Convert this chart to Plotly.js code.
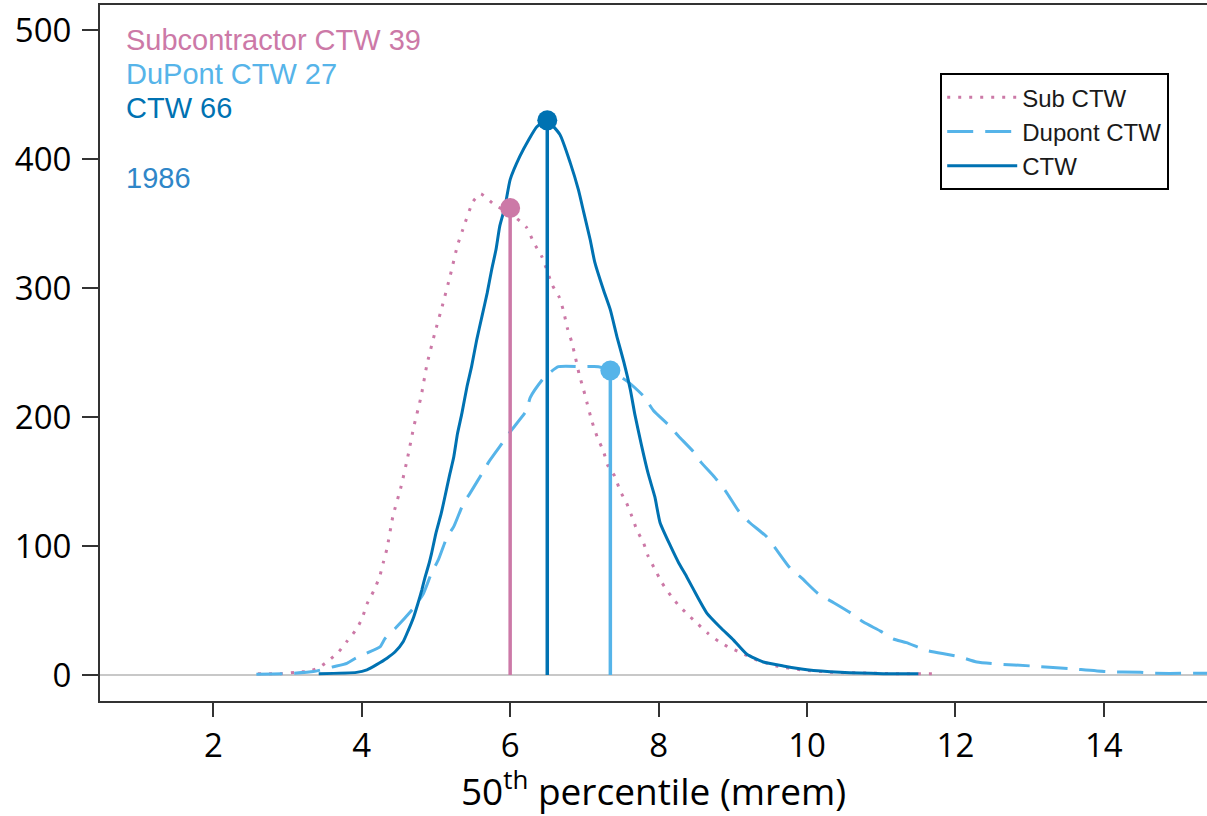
<!DOCTYPE html>
<html>
<head>
<meta charset="utf-8">
<script src="https://cdn.plot.ly/plotly-3.0.1.min.js"></script>
<style>
  html, body { margin: 0; padding: 0; background: #ffffff; }
  #chart { width: 1207px; height: 816px; }
</style>
</head>
<body>
<div id="chart"></div>
<script>
// Sub CTW (subcontractor) curve
const subX = [2.6, 2.9, 3.1, 3.3, 3.43, 3.55, 3.69, 3.8, 3.91, 4.0, 4.07, 4.16, 4.24, 4.29, 4.34, 4.42, 4.53, 4.62, 4.7, 4.8, 4.88, 4.98, 5.09, 5.19, 5.29, 5.36, 5.5, 5.6, 5.8, 6.0, 6.22, 6.32, 6.43, 6.57, 6.66, 6.72, 6.77, 6.83, 6.88, 6.93, 6.99, 7.04, 7.1, 7.17, 7.26, 7.31, 7.41, 7.48, 7.57, 7.64, 7.71, 7.8, 7.86, 7.95, 8.04, 8.17, 8.27, 8.39, 8.52, 8.67, 8.81, 8.93, 9.12, 9.3, 9.59, 9.91, 10.36, 10.81, 11.12, 11.73];
const subY = [1, 1, 2, 3, 6, 11, 18, 26, 34, 43, 55, 65, 76, 87, 98, 123, 146, 169, 192, 216, 241, 264, 287, 309, 333, 345, 367, 373, 364, 358, 347, 335, 324, 302, 293, 282, 269, 258, 246, 233, 221, 210, 197, 185, 173, 163, 154, 143, 133, 123, 112, 102, 92, 82, 72, 61, 54, 47, 40, 32, 26, 22, 17, 12, 7, 4, 2, 1.5, 1, 1];

// DuPont CTW curve
const dupX = [2.58, 2.99, 3.35, 3.62, 3.8, 3.92, 4.07, 4.25, 4.31, 4.45, 4.7, 4.83, 4.94, 5.03, 5.15, 5.24, 5.37, 5.46, 5.64, 5.71, 5.91, 6.02, 6.22, 6.27, 6.45, 6.65, 6.99, 7.19, 7.35, 7.57, 7.8, 7.93, 8.13, 8.27, 8.47, 8.57, 8.76, 8.91, 9.08, 9.23, 9.46, 9.59, 9.77, 9.93, 10.15, 10.36, 10.59, 10.76, 10.99, 11.16, 11.34, 11.61, 11.88, 12.06, 12.29, 12.56, 13.01, 13.52, 14.02, 14.49, 14.66, 15.4];
const dupY = [0.5, 1, 2.6, 6.4, 9, 13, 17, 22, 28, 36, 52, 63, 79, 89, 107, 115, 133, 141, 158, 165, 181, 190, 205, 215, 230, 239, 239, 239, 236, 228, 216, 205, 194, 185, 173, 165, 153, 142, 127, 118, 107, 97, 83, 75, 63, 56, 48, 41, 34, 28, 25, 19, 16, 14, 10, 8.5, 7, 5, 2.6, 2, 1.3, 1.3];

// Combined CTW curve
const ctwX = [3.42, 3.93, 4.07, 4.2, 4.34, 4.45, 4.56, 4.63, 4.7, 4.76, 4.81, 4.85, 4.91, 4.94, 5.0, 5.07, 5.12, 5.18, 5.24, 5.29, 5.35, 5.42, 5.48, 5.55, 5.62, 5.69, 5.75, 5.81, 5.86, 5.93, 6.0, 6.13, 6.25, 6.36, 6.49, 6.67, 6.81, 6.92, 6.99, 7.08, 7.14, 7.26, 7.35, 7.44, 7.53, 7.62, 7.68, 7.77, 7.86, 7.95, 8.02, 8.16, 8.27, 8.38, 8.52, 8.65, 8.83, 9.01, 9.19, 9.41, 9.68, 10.0, 10.45, 11.03, 11.5];
const ctwY = [1, 2, 4, 8, 13, 18, 26, 35, 45, 56, 66, 75, 87, 94, 110, 125, 138, 154, 169, 187, 203, 224, 239, 260, 278, 296, 314, 330, 348, 363, 384, 402, 415, 425, 430, 419, 397, 376, 359, 337, 320, 298, 283, 262, 243, 221, 202, 178, 156, 138, 118, 100, 87, 76, 61, 48, 37, 27, 16, 10, 7, 4, 2, 1, 1];

// Median markers (Sub, DuPont, CTW)
const medianX = [6.0, 7.35, 6.5];
const medianY = [362, 236, 430];

// Labels
const seriesNames = ["Sub CTW", "Dupont CTW", "CTW"];
const infoLabels = ["Subcontractor CTW 39", "DuPont CTW 27", "CTW 66", "1986"];
const xTicks = [2, 4, 6, 8, 10, 12, 14];
const yTicks = [0, 100, 200, 300, 400, 500];

const PINK = "#cc79a7", SKY = "#56b4e9", BLUE = "#0072b2", YEAR = "#2f86c8";
const colors = [PINK, SKY, BLUE];

const traces = [
  { x: subX, y: subY, type: "scatter", mode: "lines", name: seriesNames[0],
    line: { color: PINK, width: 3, dash: "3px,8px", shape: "spline", smoothing: 0.5 } },
  { x: dupX, y: dupY, type: "scatter", mode: "lines", name: seriesNames[1],
    line: { color: SKY, width: 3, dash: "26px,12px", shape: "spline", smoothing: 0.5 } },
  { x: ctwX, y: ctwY, type: "scatter", mode: "lines", name: seriesNames[2],
    line: { color: BLUE, width: 3, shape: "spline", smoothing: 0.5 } }
];
medianX.forEach((m, i) => {
  traces.push({
    x: [m, m], y: [0, medianY[i]], type: "scatter", mode: "lines",
    showlegend: false, hoverinfo: "skip",
    line: { color: colors[i], width: 3.5 }
  });
});
traces.push({
  x: medianX, y: medianY, type: "scatter", mode: "markers",
  showlegend: false, hoverinfo: "skip",
  marker: { color: colors, size: 20, opacity: 1, line: { width: 0 } }
});

const annFont = "Liberation Sans, Arial, sans-serif";
const tickFont = "Open Sans, Lato, sans-serif";
const annColors = [PINK, SKY, BLUE, YEAR];
const annY = [0.9497, 0.9009, 0.852, 0.7514];
const annotations = infoLabels.map((t, i) => ({
  text: t, xref: "paper", yref: "paper", x: 0.0217, y: annY[i],
  xanchor: "left", yanchor: "middle", showarrow: false,
  font: { family: annFont, size: 29, color: annColors[i] }
}));

const layout = {
  width: 1207, height: 816,
  margin: { l: 100, r: 0, t: 5, b: 115 },
  paper_bgcolor: "#ffffff", plot_bgcolor: "#ffffff",
  font: { family: tickFont, size: 33, color: "#000" },
  showlegend: true,
  legend: {
    x: 0.759, y: 0.902, xanchor: "left", yanchor: "top",
    bordercolor: "#000", borderwidth: 2, bgcolor: "#fff",
    font: { family: annFont, size: 24, color: "#1a1a1a" },
    itemwidth: 70, tracegroupgap: 0
  },
  xaxis: {
    range: [0.473, 15.39], tickvals: xTicks, ticktext: xTicks.map(String),
    showgrid: false, zeroline: false,
    showline: true, linecolor: "#333", linewidth: 2, mirror: true,
    ticks: "outside", ticklen: 14, tickwidth: 2, tickcolor: "#333",
    tickfont: { family: tickFont, size: 33, color: "#000" },
    title: { text: "50<sup>th</sup> percentile (mrem)", standoff: 14,
             font: { family: tickFont, size: 37, color: "#000" } }
  },
  yaxis: {
    range: [-20.2, 519.4], tickvals: yTicks, ticktext: yTicks.map(String),
    showgrid: false, zeroline: true, zerolinecolor: "#c8c8c8", zerolinewidth: 2,
    showline: true, linecolor: "#333", linewidth: 2, mirror: false,
    ticks: "outside", ticklen: 16, tickwidth: 2, tickcolor: "#333",
    ticklabelstandoff: 4,
    tickfont: { family: tickFont, size: 33, color: "#000" }
  },
  annotations: annotations
};

Plotly.newPlot("chart", traces, layout, { displayModeBar: false, staticPlot: true });
</script>
</body>
</html>
